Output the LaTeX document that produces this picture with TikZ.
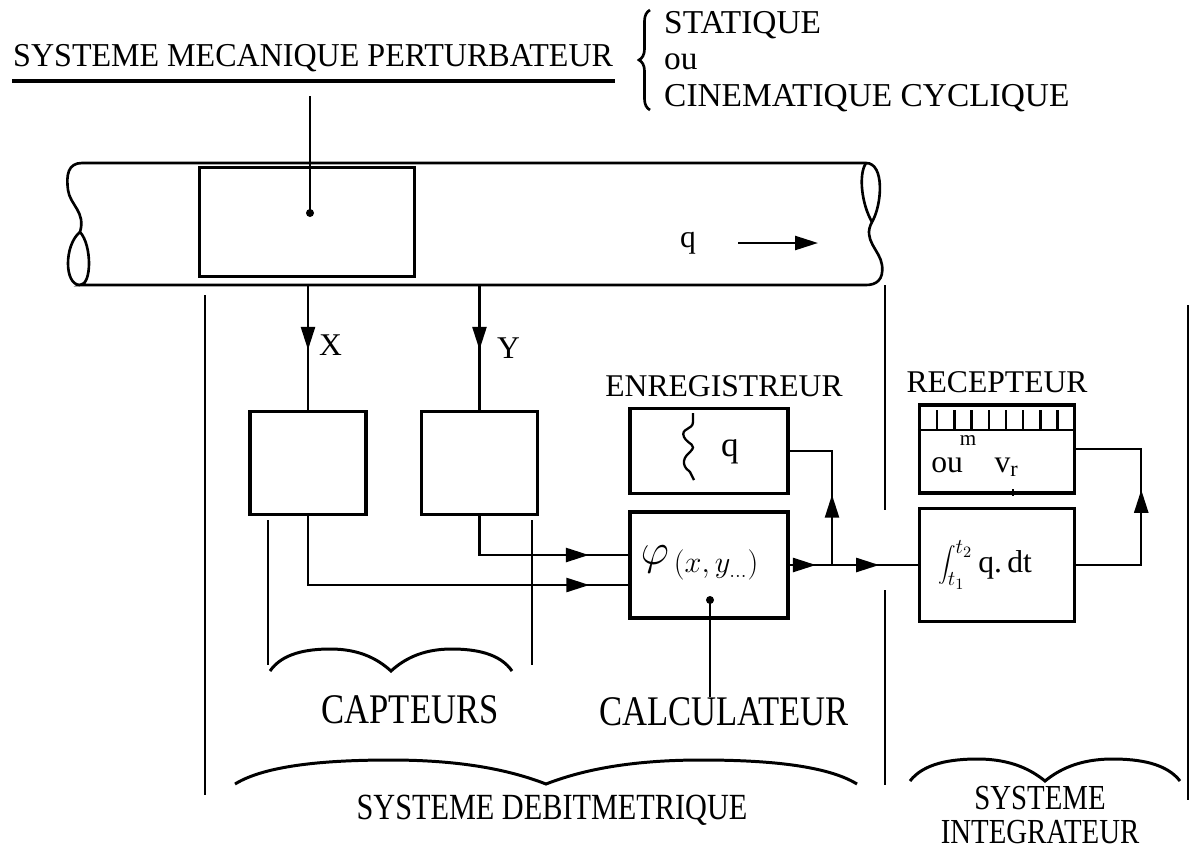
\documentclass[tikz,border=0pt]{standalone}
\usepackage{fontspec}
\setmainfont{Liberation Serif}
\newfontfamily\narrowfont[FakeStretch=0.82]{Liberation Serif}
\newfontfamily\titlefont[FakeStretch=0.96]{Liberation Serif}
\usetikzlibrary{arrows.meta,positioning,decorations.pathreplacing,decorations.markings}

% wavy brace: centre x, y, half width, amplitude
\newcommand{\wavebrace}[4]{%
  \draw[line width=1.7pt] ({#1-#3},{#2+#4}) .. controls ({#1-0.9*#3},{#2-0.6*#4}) and ({#1-0.7*#3},{#2-#4}) .. ({#1-0.5*#3},{#2-#4})
    .. controls ({#1-0.25*#3},{#2-#4}) and ({#1-0.1*#3},{#2}) .. (#1,{#2+#4})
    .. controls ({#1+0.1*#3},{#2}) and ({#1+0.25*#3},{#2-#4}) .. ({#1+0.5*#3},{#2-#4})
    .. controls ({#1+0.7*#3},{#2-#4}) and ({#1+0.9*#3},{#2-0.6*#4}) .. ({#1+#3},{#2+#4});}

\tikzset{midarrow/.style={postaction={decorate},decoration={markings,mark=at position #1 with {\arrow{>}}}}}

\begin{document}
\begin{tikzpicture}[x=0.02cm, y=-0.02cm, line width=1.4pt, >={Triangle[length=4.6mm,width=2.8mm]}]
\tikzstyle{block} = [rectangle, draw, line width=2pt, inner sep=0pt]
\tikzstyle{heading} = [font=\fontsize{19}{22}\selectfont, inner sep=0pt]
\tikzstyle{boxhead} = [font=\fontsize{18}{20}\selectfont, inner sep=0pt]
\tikzstyle{group} = [font=\narrowfont\fontsize{24}{26}\selectfont, inner sep=0pt]
\tikzstyle{sysname} = [font=\narrowfont\fontsize{21}{21}\selectfont, inner sep=0pt, align=center]
\tikzstyle{sep} = [line width=1.6pt]

\useasboundingbox (0,0) rectangle (1192,849);

% perturbing system
\node (pert) [heading, font=\titlefont\fontsize{19}{22}\selectfont, anchor=base west] at (12,66) {SYSTEME MECANIQUE PERTURBATEUR};
\draw[line width=1.8pt] (12,81) -- (615,81);
\node (stat) [heading, anchor=base west] at (663,33) {STATIQUE};
\node (ou) [heading, anchor=base west] at (663,69) {ou};
\node (cine) [heading, anchor=base west] at (663,106) {CINEMATIQUE CYCLIQUE};
\draw[decorate, decoration={brace, amplitude=2.2mm}, line width=1.5pt] (650,110) -- (650,10);

% pipe
\draw[line width=1.5pt] (866,163) -- (82,163) .. controls (68,163) and (66,175) .. (68,190)
  .. controls (70,205) and (86,212) .. (80,232)
  .. controls (92,245) and (92,285) .. (80,285) -- (866,285)
  .. controls (876,285) and (884,280) .. (882,265)
  .. controls (880,250) and (862,240) .. (872,222)
  .. controls (882,205) and (885,163) .. (866,163);
\draw[line width=1.5pt] (80,232) .. controls (64,245) and (64,285) .. (80,285);
\draw[line width=1.5pt] (872,222) .. controls (862,205) and (858,175) .. (866,163);
\node (q) [boxhead] at (688,243) {q};
\coordinate (qtail) at (738,243);
\coordinate (qtip) at (818,243);
\draw[->] (qtail) -- (qtip);

\node (meas) [block, minimum width=4.3cm, minimum height=2.18cm] at (307,222) {};
\coordinate (mdot) at (310,213);
\coordinate (mtop) at (310,96);
\fill (mdot) circle (4);
\draw (mtop) -- (mdot);

% separators
\draw[sep] (205,295) -- (205,795);
\draw[sep] (885,285) -- (885,510);
\draw[sep] (885,590) -- (885,785);
\draw[sep] (1188,305) -- (1188,800);
\draw[sep] (268,520) -- (268,665);
\draw[sep] (532,520) -- (532,665);

% sensors
\node (capX) [block, minimum width=2.32cm, minimum height=2.06cm] at (308,463) {};
\node (capY) [block, minimum width=2.32cm, minimum height=2.06cm, right=1.04cm of capX] {};
\coordinate (xsrc) at (308,285);
\coordinate (ysrc) at (capY.north |- xsrc);
\draw[midarrow=0.52] (xsrc) -- (capX.north);
\draw[midarrow=0.52] (ysrc) -- (capY.north);
\node (xlab) [boxhead, anchor=west] at (318,345) {X};
\node (ylab) [boxhead, anchor=west] at (496,348) {Y};

% computer and recorder
\node (calc) [block, minimum width=3.16cm, minimum height=2.12cm] at (709,565) {};
\node (phi) at (700,563) {\fontsize{24}{26}\selectfont$\varphi_{\,(x,\,y_{\dots})}$};
\node (rec) [block, minimum width=3.16cm, minimum height=1.7cm, above=0.3cm of calc] {};
\node (enr) [boxhead, above=0.18cm of rec, xshift=0.3cm] {ENREGISTREUR};
\draw[line width=1.3pt] (693,413) -- (693,422) .. controls (693,430) and (680,428) .. (684,437)
  .. controls (688,445) and (698,444) .. (690,452) .. controls (680,460) and (684,468) .. (690,472) -- (694,480);
\node (qrec) [font=\fontsize{20}{22}\selectfont] at (730,452) {q};

\draw[midarrow=0.9] (capX.south) |- ([yshift=-0.4cm]calc.west);
\draw[midarrow=0.79] (capY.south) |- ([yshift=0.2cm]calc.west);

\coordinate (cdot) at (710,600);
\fill (cdot) circle (4);
\node (calcl) [group] at (724,712) {CALCULATEUR};
\draw (cdot) -- (calcl.north -| cdot);

% integrator and receiver
\node (integ) [block, minimum width=3.1cm, minimum height=2.26cm] at (997,565) {};
\node (intg) at (985,565) {\fontsize{18}{20}\selectfont$\displaystyle\int_{t_1}^{t_2}$\,q.\,dt};
\node (recv) [block, minimum width=3.1cm, minimum height=1.76cm, above=0.24cm of integ] {};
\node (rcp) [boxhead, above=0.18cm of recv] {RECEPTEUR};
\draw (recv.west |- 0,430) -- (recv.east |- 0,430);
\foreach \k in {1,...,8}
  \draw ({920+\k*17.2},410) -- ({920+\k*17.2},430);
\node (mlab) [font=\fontsize{12}{13}\selectfont, inner sep=0pt] at (968,441) {m};
\node (oulab) [font=\fontsize{18}{20}\selectfont] at (975,467) {ou\quad v\textsubscript{r}};
\draw[line width=0.9pt] (1013,489) -- (1013,496);

\coordinate (jn) at (832,565);
\draw[midarrow=0.62] (calc.east) -- (jn);
\draw[midarrow=0.55] (jn) -- (integ.west);
\draw[midarrow=0.45] (jn) |- (rec.east);
\draw[midarrow=0.57] (integ.east) -- ++(65,0) |- (recv.east);

% groups
\wavebrace{391}{660}{121}{11}
\node (capt) [group] at (410,710) {CAPTEURS};
\wavebrace{546}{772}{311}{12}
\node (debit) [sysname] at (552,810) {SYSTEME DEBITMETRIQUE};
\wavebrace{1045}{770}{135}{11}
\node (integr) [sysname, font=\narrowfont\fontsize{20}{19}\selectfont] at (1040,815) {SYSTEME\\INTEGRATEUR};
\end{tikzpicture}
\end{document}
